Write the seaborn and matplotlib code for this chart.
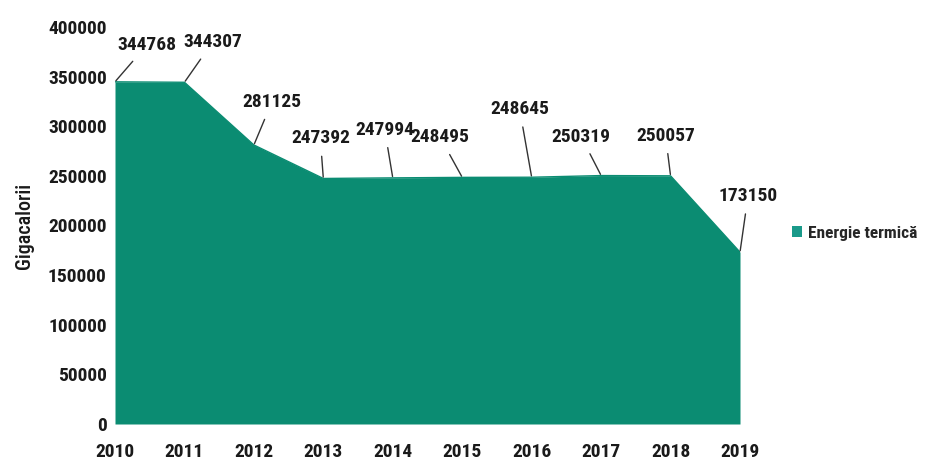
import matplotlib
matplotlib.use("Agg")
import matplotlib.pyplot as plt
import seaborn as sns
import pandas as pd
from matplotlib.patches import Patch

years = [2010, 2011, 2012, 2013, 2014, 2015, 2016, 2017, 2018, 2019]
values = [344768, 344307, 281125, 247392, 247994, 248495, 248645, 250319, 250057, 173150]
yticks = [0, 50000, 100000, 150000, 200000, 250000, 300000, 350000, 400000]
series_name = "Energie termică"
ylabel = "Gigacalorii"

# label offsets in pixels (dx, dy) relative to the data point
label_offsets = [(32, 37), (28, 40), (18, 43), (-3, 40), (-8, 48), (-22, 40),
                 (-12, 68), (-20, 39), (-5, 40), (8, 56)]

sns.set_theme(style="white")
plt.rcParams['font.family'] = ['Roboto Condensed', 'DejaVu Sans']

color = "#0b8c72"
df = pd.DataFrame({"year": years, "value": values})

fig = plt.figure(figsize=(9.27, 4.61), dpi=100)
ax = fig.add_axes([115/927, 37/461, 625/927, 397/461])
sns.lineplot(data=df, x="year", y="value", ax=ax, color=color, lw=1)
ax.fill_between(df["year"], df["value"], color=color, lw=0)

fs = 14
ax.set_xlim(2010, 2019)
ax.set_ylim(0, 400000)
ax.set_xticks(years)
ax.set_xticklabels([str(y) for y in years], fontsize=fs, fontweight="bold", color="#1a1a1a")
ax.set_yticks(yticks)
ax.set_yticklabels([str(v) for v in yticks], fontsize=fs, fontweight="bold", color="#1a1a1a")
ax.tick_params(axis="x", pad=14, length=0)
ax.tick_params(axis="y", pad=6, length=0)
ax.set_xlabel("")
ax.set_ylabel(ylabel, fontsize=14.5, labelpad=10, color="#1a1a1a", fontweight="medium")
for s in ax.spines.values():
    s.set_visible(False)

for x, v, (dx, dy) in zip(years, values, label_offsets):
    ax.annotate(str(v), xy=(x, v), xytext=(dx, dy), textcoords="offset pixels",
                ha="center", va="center", fontsize=fs, fontweight="bold", color="#1a1a1a",
                arrowprops=dict(arrowstyle="-", color="#333333", lw=1, shrinkA=4, shrinkB=1),
                annotation_clip=False)

leg = ax.legend(handles=[Patch(facecolor="#1a9a8a", edgecolor="none", label=series_name)],
                loc="center left", bbox_to_anchor=(1.058, 0.48), frameon=False,
                handlelength=0.6, handleheight=0.6, handletextpad=0.3,
                prop={"size": 12.5, "weight": "bold"})

fig.savefig("out.png", dpi=100)
